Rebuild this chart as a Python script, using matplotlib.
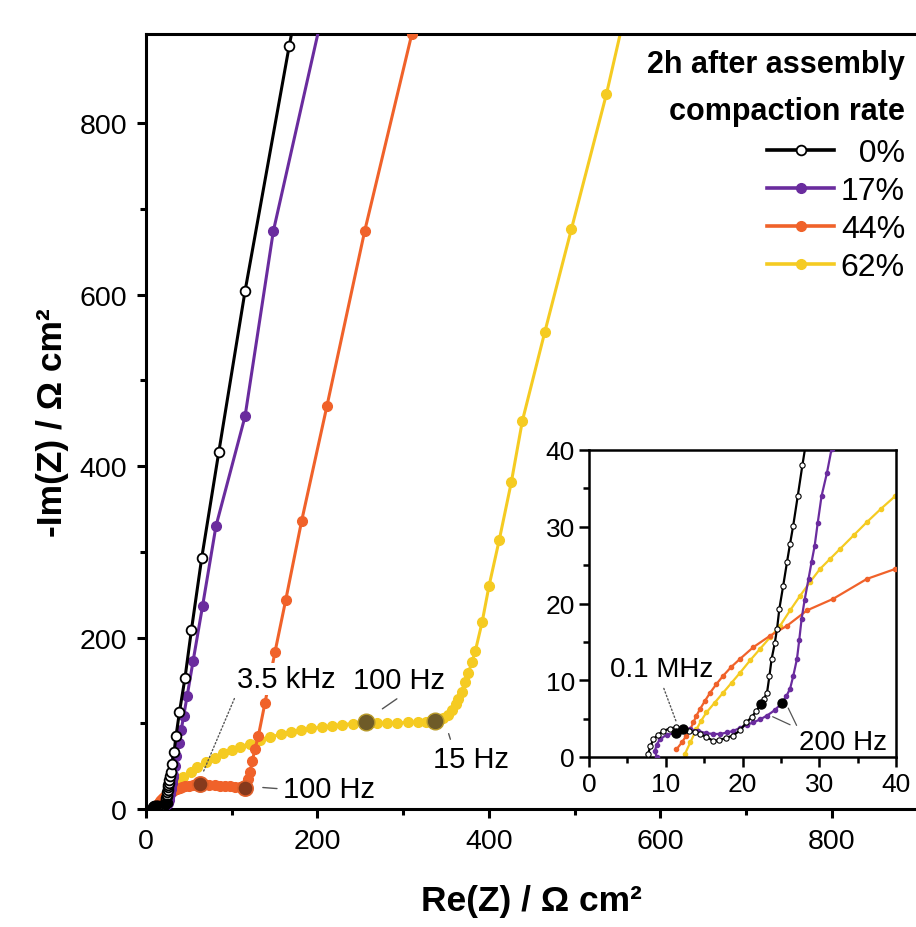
import matplotlib
matplotlib.use("Agg")
import matplotlib.pyplot as plt
from matplotlib.lines import Line2D

plt.rcParams['font.family'] = ['Liberation Sans', 'DejaVu Sans']

# ---- data (Re(Z), -Im(Z) in Ohm cm2) ----
labels = ["0%", "17%", "44%", "62%"]
colors = ["#000000", "#6a2c9e", "#f0622a", "#f5cb22"]

re_0 = [7.7, 8.0, 8.4, 9.0, 9.7, 10.5, 11.4, 12.2, 13.0, 13.8, 14.5, 15.3, 16.2, 17.0,
        17.9, 18.8, 19.7, 20.5, 21.2, 21.8, 22.4, 22.8, 23.2, 23.5, 23.8, 24.2, 24.5,
        24.8, 25.3, 25.8, 26.2, 26.6, 27.2, 27.8, 28.6, 30.0, 32.7, 35.0, 39.0, 45.5,
        53.0, 65.0, 85.0, 115.5, 167.0, 200.0]
im_0 = [0.4, 1.4, 2.3, 2.9, 3.4, 3.7, 3.9, 3.7, 3.4, 3.2, 3.0, 2.6, 2.1, 2.2,
        2.5, 2.8, 3.5, 4.5, 5.2, 6.0, 6.9, 7.6, 8.4, 10.5, 12.8, 14.8, 16.7,
        19.3, 22.3, 25.4, 27.8, 30.1, 34.0, 38.0, 43.0, 52.0, 66.0, 85.0, 113.0, 153.0,
        209.0, 293.0, 417.0, 604.0, 890.0, 1060.0]

re_17 = [8.8, 8.6, 8.8, 9.25, 10.1, 11.3, 12.2, 13.2, 14.2, 15.3, 16.2, 17.1, 18.0,
         18.8, 19.7, 20.6, 21.4, 22.3, 23.2, 24.2, 25.1, 25.7, 26.2, 26.6, 27.1, 27.4,
         27.7, 28.1, 28.6, 29.0, 29.4, 29.8, 30.3, 31.0, 31.6, 33.3, 35.5, 38.0, 41.0,
         44.0, 48.0, 55.0, 66.0, 81.6, 115.5, 148.5, 222.0]
im_17 = [0.0, 0.8, 1.6, 2.3, 2.9, 3.1, 3.5, 3.6, 3.4, 3.1, 3.0, 3.0, 3.2,
         3.4, 3.8, 4.2, 4.5, 4.9, 5.4, 6.1, 7.0, 7.9, 8.9, 10.5, 12.8, 15.3,
         18.0, 20.5, 23.2, 25.4, 27.5, 30.5, 34.0, 37.0, 40.1, 50.0, 62.0, 77.0, 92.0,
         109.0, 132.0, 173.0, 237.0, 330.0, 458.0, 674.0, 1000.0]

re_44 = [11.4, 12.1, 12.7, 13.2, 13.6, 14.0, 14.5, 15.1, 15.8, 16.6, 17.5, 18.5, 19.7,
         21.4, 23.6, 25.8, 28.4, 31.8, 36.2, 39.9, 42.0, 46.0, 50.0, 55.0, 59.0, 63.0,
         68.0, 74.0, 80.0, 86.0, 92.0, 98.0, 104.0, 110.0, 115.5, 119.0, 121.3, 124.0,
         127.0, 131.0, 138.8, 150.4, 163.0, 181.5, 211.0, 255.0, 310.0, 335.0]
im_44 = [1.0, 1.9, 2.8, 3.6, 4.5, 5.4, 6.3, 7.3, 8.4, 9.5, 10.6, 11.7, 12.8,
         14.3, 15.8, 17.1, 19.1, 20.6, 23.2, 24.5, 25.3, 26.3, 27.2, 28.2, 28.8, 29.0,
         28.8, 28.3, 27.8, 27.2, 26.7, 26.3, 25.9, 25.5, 25.0, 35.0, 43.0, 56.0,
         70.0, 85.0, 124.0, 183.0, 244.0, 336.0, 470.0, 674.0, 904.0, 1000.0]

re_62 = [12.5, 13.2, 14.0, 14.6, 15.3, 16.4, 17.5, 18.6, 19.7, 21.0, 22.3, 23.6, 24.9,
         26.2, 27.5, 28.8, 30.1, 31.4, 32.7, 34.5, 36.2, 38.0, 39.9, 43.5, 52.0, 60.0,
         70.0, 80.0, 90.0, 100.0, 110.0, 121.0, 133.0, 145.0, 157.0, 169.0, 181.0, 193.0,
         205.0, 217.0, 229.0, 241.0, 257.0, 269.0, 281.0, 293.0, 305.0, 317.0, 326.0,
         337.0, 346.0, 352.0, 357.0, 361.0, 364.0, 368.0, 372.0, 376.0, 380.0, 384.0,
         392.0, 400.0, 412.0, 426.0, 439.0, 465.0, 496.0, 537.0, 575.0]
im_62 = [0.4, 1.9, 3.6, 4.7, 5.8, 7.1, 8.4, 9.7, 11.0, 12.6, 14.1, 15.6, 17.1,
         19.1, 21.0, 22.8, 24.5, 25.8, 27.1, 28.9, 30.6, 32.3, 34.0, 37.0, 43.0, 49.0,
         55.0, 60.0, 65.0, 69.0, 72.5, 76.0, 80.0, 84.0, 87.0, 90.0, 92.0, 94.0,
         95.5, 97.0, 98.5, 99.5, 101.0, 100.5, 100.0, 100.3, 101.0, 101.5, 102.0,
         103.0, 106.0, 110.0, 116.0, 122.0, 128.0, 137.0, 148.0, 159.0, 171.0, 184.0,
         218.0, 260.0, 314.0, 381.0, 453.0, 556.0, 676.0, 834.0, 1000.0]

series_re = [re_0, re_17, re_44, re_62]
series_im = [im_0, im_17, im_44, im_62]

# marked frequencies
hl_main_orange_re = [63.0, 115.5]   # 3.5 kHz, 100 Hz
hl_main_orange_im = [29.0, 25.0]
hl_main_yellow_re = [257.0, 337.0]  # 100 Hz, 15 Hz
hl_main_yellow_im = [101.0, 103.0]
hl_inset_re = [12.2, 22.4, 11.3, 25.1]  # 0.1 MHz and 200 Hz, 0% and 17%
hl_inset_im = [3.7, 6.9, 3.1, 7.0]

zorders = [5, 4, 3, 2]

fig = plt.figure(figsize=(9.16, 9.28), dpi=100)
ax = fig.add_axes([146 / 916, 1 - 810 / 928, 770 / 916, 775 / 928])

for xs, ys, c, lab, z in zip(series_re, series_im, colors, labels, zorders):
    if c == "#000000":
        ax.plot(xs, ys, '-o', color=c, lw=2.2, ms=7, mfc='white', mec='black', mew=1.3,
                zorder=z, label=lab)
    else:
        ax.plot(xs, ys, '-o', color=c, lw=2.2, ms=7, mec=c, zorder=z, label=lab)

ax.plot(hl_main_orange_re, hl_main_orange_im, 'o', ls='none', ms=11, mfc='#86391c',
        mec='#e0602a', mew=1.2, zorder=6)
ax.plot(hl_main_yellow_re, hl_main_yellow_im, 'o', ls='none', ms=12, mfc='#6e5b28',
        mec='#b89a2a', mew=1.0, zorder=6)
ax.plot(hl_inset_re, hl_inset_im, 'o', ls='none', ms=6, color='black', zorder=6)

ax.set_xlim(0, 898)
ax.set_ylim(0, 904)
ax.set_xticks([0, 200, 400, 600, 800])
ax.set_xticks([100, 300, 500, 700], minor=True)
ax.set_yticks([0, 200, 400, 600, 800])
ax.set_yticks([100, 300, 500, 700], minor=True)
ax.spines['right'].set_visible(False)
for s in ['left', 'top', 'bottom']:
    ax.spines[s].set_linewidth(2.2)
ax.tick_params(which='major', direction='out', length=6.5, width=2.2, labelsize=20.5, pad=7)
ax.tick_params(which='minor', direction='out', length=4, width=2.2)

ax.set_xlabel('Re(Z) / Ω cm²', fontsize=25.5, fontweight='bold', labelpad=22)
ax.set_ylabel('-Im(Z) / Ω cm²', fontsize=25.5, fontweight='bold', labelpad=8)

gray = '#555555'
ann_fs = 21
white_box = dict(fc='white', ec='none', pad=1.5)
ax.annotate('3.5 kHz', xy=(65, 39), xytext=(106, 152), ha='left', va='center', fontsize=ann_fs,
            bbox=white_box, zorder=10,
            arrowprops=dict(arrowstyle='-', ls=':', color=gray, lw=1, relpos=(0.0, 0.0),
                            shrinkA=3, shrinkB=2))
ax.annotate('100 Hz', xy=(273, 115), xytext=(241, 150), ha='left', va='center', fontsize=ann_fs,
            bbox=white_box, zorder=10,
            arrowprops=dict(arrowstyle='-', color=gray, lw=1, relpos=(0.55, 0.0),
                            shrinkA=3, shrinkB=2))
ax.annotate('15 Hz', xy=(352, 91), xytext=(335, 58), ha='left', va='center', fontsize=ann_fs,
            bbox=white_box, zorder=10,
            arrowprops=dict(arrowstyle='-', color=gray, lw=1, relpos=(0.25, 1.0),
                            shrinkA=3, shrinkB=2))
ax.annotate('100 Hz', xy=(133, 25.3), xytext=(160, 23.3), ha='left', va='center', fontsize=ann_fs,
            bbox=white_box, zorder=10,
            arrowprops=dict(arrowstyle='-', color=gray, lw=1, relpos=(0.0, 0.5),
                            shrinkA=3, shrinkB=2))

# legend
fig.text(905 / 916, 1 - 65 / 928, '2h after assembly', ha='right', va='center',
         fontsize=22, fontweight='bold')
fig.text(905 / 916, 1 - 112 / 928, 'compaction rate', ha='right', va='center',
         fontsize=22, fontweight='bold')
handles = []
for c, lab in zip(colors, labels):
    if c == "#000000":
        h = Line2D([], [], color=c, lw=2.6, marker='o', ms=7, mfc='white', mec='black', mew=1.3)
        lab = '  ' + lab
    else:
        h = Line2D([], [], color=c, lw=2.6, marker='o', ms=7, mec=c)
    handles.append((h, lab))
leg = ax.legend([h for h, _ in handles], [l for _, l in handles], loc='upper right',
                bbox_to_anchor=(905 / 916, 1 - 139 / 928), bbox_transform=fig.transFigure,
                frameon=False, fontsize=23, handlelength=2.1, handletextpad=0.2,
                labelspacing=0.25, borderpad=0, borderaxespad=0)

# inset
axi = fig.add_axes([589 / 916, 1 - 758 / 928, 307 / 916, 307 / 928])
for xs, ys, c, z in zip(series_re, series_im, colors, zorders):
    if c == "#000000":
        axi.plot(xs, ys, '-o', color=c, lw=1.6, ms=3.8, mfc='white', mec='black', mew=0.8, zorder=z)
    else:
        axi.plot(xs, ys, '-o', color=c, lw=1.6, ms=3.0, mec=c, zorder=z)
axi.plot(hl_inset_re, hl_inset_im, 'o', ls='none', ms=6.5, color='black', zorder=7)
axi.set_xlim(0, 40)
axi.set_ylim(0, 40)
axi.set_xticks([0, 10, 20, 30, 40])
axi.set_xticks([5, 15, 25, 35], minor=True)
axi.set_yticks([0, 10, 20, 30, 40])
axi.set_yticks([5, 15, 25, 35], minor=True)
for s in axi.spines.values():
    s.set_linewidth(1.8)
axi.tick_params(which='major', direction='out', length=7, width=1.8, labelsize=19, pad=3)
axi.tick_params(which='minor', direction='out', length=4, width=1.8)
axi.tick_params(axis='x', which='major', pad=4)
axi.annotate('0.1 MHz', xy=(11.4, 4.5), xytext=(2.7, 11.5), ha='left', va='center', fontsize=20,
             arrowprops=dict(arrowstyle='-', ls=':', color=gray, lw=1, relpos=(0.5, 0.0),
                             shrinkA=3, shrinkB=1))
axi.annotate('200 Hz', xy=(25.8, 6.7), xytext=(27.3, 1.9), ha='left', va='center', fontsize=20,
             arrowprops=dict(arrowstyle='-', color=gray, lw=0.9, relpos=(0.0, 1.0),
                             shrinkA=1, shrinkB=2))
axi.annotate('', xy=(23.6, 5.4), xytext=(26.2, 4.2),
             arrowprops=dict(arrowstyle='-', color=gray, lw=0.9, shrinkA=0, shrinkB=2))

fig.savefig('out.png', dpi=100)
